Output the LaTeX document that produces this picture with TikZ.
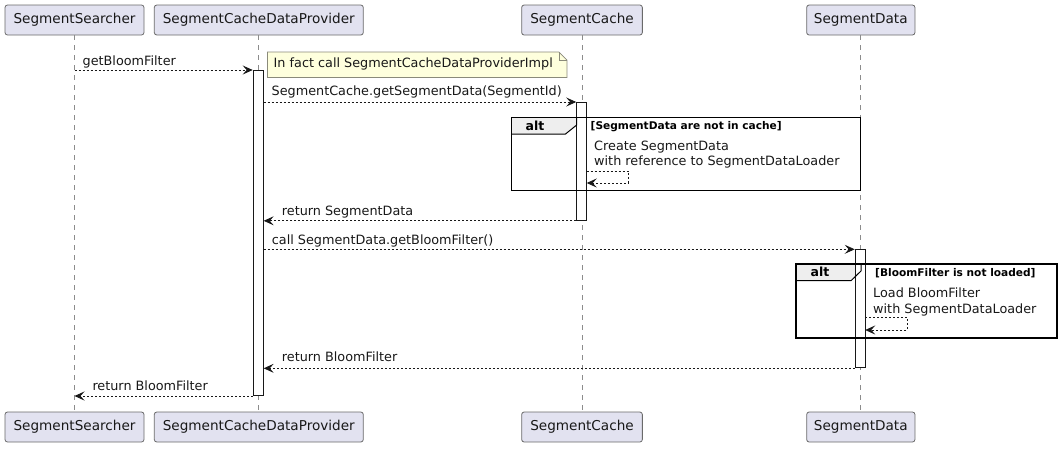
\documentclass[tikz,border=0pt]{standalone}
\usepackage{fontspec}
\setmainfont{DejaVu Sans}
\usetikzlibrary{arrows.meta}

\definecolor{partfill}{HTML}{E2E2F0}
\definecolor{partline}{HTML}{6A6A6A}
\definecolor{notefill}{HTML}{FEFFDD}
\definecolor{noteline}{HTML}{8A8A7A}
\definecolor{ink}{HTML}{181818}
\definecolor{tabfill}{HTML}{EEEEEE}
\definecolor{lifegray}{HTML}{8C8C8C}

\tikzset{
  participant/.style={rectangle, rounded corners=2.5pt, fill=partfill, draw=partline,
    line width=0.8pt, minimum height=30pt, inner sep=0pt,
    font=\fontsize{13.6}{16}\selectfont, text=ink},
  lifeline/.style={draw=lifegray, line width=0.7pt, dash pattern=on 5pt off 5pt},
  actbar/.style={rectangle, fill=white, draw=ink, line width=1pt, minimum width=10pt, inner sep=0pt},
  msg/.style={draw=ink, line width=0.8pt, dash pattern=on 2pt off 2pt,
    -{Stealth[length=10pt,width=9pt,inset=4pt]}},
  msgtext/.style={anchor=base west, inner sep=0pt, font=\fontsize{12.8}{15}\selectfont, text=ink},
  condtext/.style={anchor=base west, inner sep=0pt, font=\fontsize{10.6}{12}\selectfont\bfseries, text=black},
  alttext/.style={anchor=base, inner sep=0pt, font=\fontsize{12.5}{15}\selectfont\bfseries, text=black},
  frameline/.style={draw=black, line width=1.5pt},
}

\begin{document}
\begin{tikzpicture}[x=1pt,y=-1pt]
\useasboundingbox (0,0) rectangle (1062,448);

% participants, heads and feet
\node[participant, minimum width=139pt] (ss-top)   at (74.5,20) {SegmentSearcher};
\node[participant, minimum width=209pt] (scdp-top) at (258.8,20) {SegmentCacheDataProvider};
\node[participant, minimum width=120.7pt] (sc-top) at (582,20) {SegmentCache};
\node[participant, minimum width=108.3pt] (sd-top) at (860.8,20) {SegmentData};
\node[participant, minimum width=139pt] (ss-bot)   at (74.5,427) {SegmentSearcher};
\node[participant, minimum width=209pt] (scdp-bot) at (258.8,427) {SegmentCacheDataProvider};
\node[participant, minimum width=120.7pt] (sc-bot) at (582,427) {SegmentCache};
\node[participant, minimum width=108.3pt] (sd-bot) at (860.8,427) {SegmentData};

% lifelines
\draw[lifeline] (ss-top.south) -- (ss-bot.north);
\draw[lifeline] (scdp-top.south) -- (scdp-bot.north);
\draw[lifeline] (sc-top.south) -- (sc-bot.north);
\draw[lifeline] (sd-top.south) -- (sd-bot.north);

% alt tabs (fill only)
\fill[tabfill] (511.5,117.3) -- (576.7,117.3) -- (576.7,125) -- (565.5,134) -- (511.5,134) -- cycle;
\fill[tabfill] (796,264) -- (861,264) -- (861,271) -- (851,280.7) -- (796,280.7) -- cycle;

% activation bars
\node[actbar, minimum height=325pt, anchor=north] (act1) at (258.2,70) {};
\node[actbar, minimum height=117.8pt, anchor=north] (act2) at (581.7,102) {};
\node[actbar, minimum height=118pt, anchor=north] (act3) at (860.2,249.3) {};

% alt frames
\draw[frameline] (511.5,117.3) rectangle (860.7,190.7);
\draw[line width=1pt] (511.5,134) -- (565.5,134) -- (576.7,125) -- (576.7,117.3);
\node[alttext] (alt1) at (535,130.7) {alt};
\node[condtext] (cond1) at (590.5,129.5) {[SegmentData are not in cache]};

\draw[frameline] (796,264) rectangle (1057,338);
\draw[line width=1pt] (796,280.7) -- (851,280.7) -- (861,271) -- (861,264);
\node[alttext] (alt2) at (820,276.7) {alt};
\node[condtext] (cond2) at (875,276.2) {[BloomFilter is not loaded]};

% note
\node[anchor=north west, minimum width=299pt, minimum height=25pt, inner sep=0pt] (note) at (267.5,52) {};
\fill[notefill] (note.north west) -- ([xshift=-8pt]note.north east) -- ([yshift=-8pt]note.north east)
  -- (note.south east) -- (note.south west) -- cycle;
\draw[noteline, line width=0.8pt] (note.north west) -- ([xshift=-8pt]note.north east) -- ([yshift=-8pt]note.north east)
  -- (note.south east) -- (note.south west) -- cycle;
\draw[noteline, line width=0.8pt] ([xshift=-8pt]note.north east) -- ([xshift=-8pt,yshift=-8pt]note.north east)
  -- ([yshift=-8pt]note.north east);
\node[msgtext] (notetext) at (273.5,67) {In fact call SegmentCacheDataProviderImpl};

% messages
\draw[msg] (ss-top.south |- act1.north) -- (act1.north west);
\node[msgtext] (m1) at (82.5,65) {getBloomFilter};

\draw[msg] (act1.east |- act2.north) -- (act2.north west);
\node[msgtext] (m2) at (271.5,95) {SegmentCache.getSegmentData(SegmentId)};

\coordinate (self1a) at (586.7,171);
\coordinate (self1b) at (586.7,183);
\draw[msg] (self1a) -- (628.3,171) |- (self1b);
\node[msgtext] (m3a) at (594,150.7) {Create SegmentData};
\node[msgtext] (m3b) at (594,165) {with reference to SegmentDataLoader};

\draw[msg] (act2.south west) -- (act1.east |- act2.south);
\node[msgtext] (m4) at (281.7,215) {return SegmentData};

\draw[msg] (act1.east |- act3.north) -- (act3.north west);
\node[msgtext] (m5) at (271.7,244) {call SegmentData.getBloomFilter()};

\coordinate (self2a) at (865.2,317.3);
\coordinate (self2b) at (865.2,330);
\draw[msg] (self2a) -- (907.3,317.3) |- (self2b);
\node[msgtext] (m6a) at (873,297) {Load BloomFilter};
\node[msgtext] (m6b) at (873,313) {with SegmentDataLoader};

\draw[msg] (act3.south west) -- (act1.east |- act3.south);
\node[msgtext] (m7) at (281.7,361.7) {return BloomFilter};

\draw[msg] (act1.south west) -- (ss-top.south |- act1.south);
\node[msgtext] (m8) at (92.3,390.7) {return BloomFilter};
\end{tikzpicture}
\end{document}
